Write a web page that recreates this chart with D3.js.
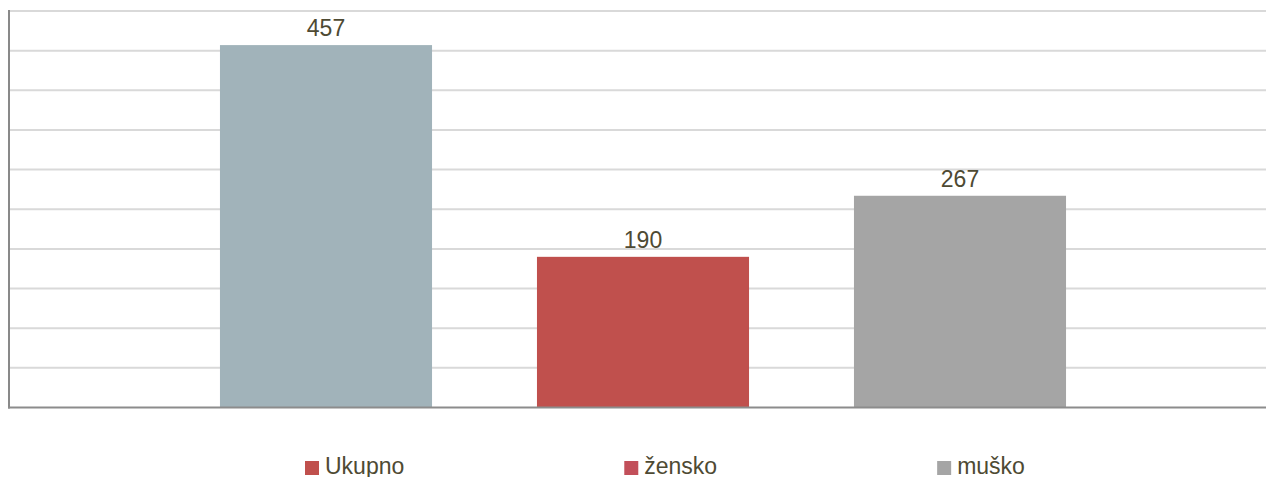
<!DOCTYPE html>
<html><head><meta charset="utf-8">
<script src="https://cdn.jsdelivr.net/npm/d3@7"></script>
<style>html,body{margin:0;padding:0;background:#fff;overflow:hidden}</style>
</head><body>
<svg id="chart" width="1266" height="477"></svg>
<script>
const categories = ["Ukupno", "žensko", "muško"];
const values = [457, 190, 267];
const barColors = ["#a1b3ba", "#c0504d", "#a5a5a5"];
const legendColors = ["#c0504d", "#c24f5a", "#a5a5a5"];
const yTicks = [0, 50, 100, 150, 200, 250, 300, 350, 400, 450, 500];

const svg = d3.select("#chart");
const font = "'Liberation Sans', Arial, sans-serif";
const textColor = "#4e4a33";

const y = d3.scaleLinear().domain([0, 500]).range([407.5, 11]);
const x = d3.scaleBand().domain(categories).range([167.5, 1118.5]).paddingInner(0.331).paddingOuter(0.1655);

// gridlines
svg.append("g").selectAll("line").data(yTicks.filter(d => d > 0)).join("line")
  .attr("x1", 10).attr("x2", 1266)
  .attr("y1", d => y(d)).attr("y2", d => y(d))
  .attr("stroke", "#d9d9d9").attr("stroke-width", 2);

// bars
svg.append("g").selectAll("rect").data(values).join("rect")
  .attr("x", (d, i) => x(categories[i]))
  .attr("width", x.bandwidth())
  .attr("y", d => y(d))
  .attr("height", d => y(0) - y(d))
  .attr("fill", (d, i) => barColors[i]);

// axes lines
svg.append("line").attr("x1", 9).attr("x2", 9).attr("y1", y(500) - 1).attr("y2", y(0) + 1)
  .attr("stroke", "#898989").attr("stroke-width", 2);
svg.append("line").attr("x1", 8).attr("x2", 1266).attr("y1", y(0)).attr("y2", y(0))
  .attr("stroke", "#8c8c8c").attr("stroke-width", 2);

// labels
svg.append("g").selectAll("text").data(values).join("text")
  .attr("x", (d, i) => x(categories[i]) + x.bandwidth() / 2)
  .attr("y", d => y(d) - 9)
  .attr("text-anchor", "middle")
  .attr("font-family", font).attr("font-size", 23)
  .attr("fill", textColor)
  .text(d => d);

// legend: items laid out with equal gaps
const legend = svg.append("g");
let cx = 305;
categories.forEach((c, i) => {
  const g = legend.append("g").attr("transform", `translate(${cx},0)`);
  g.append("rect").attr("x", 0).attr("y", 461).attr("width", 14).attr("height", 14)
    .attr("fill", legendColors[i]);
  const t = g.append("text").attr("x", 20).attr("y", 474)
    .attr("font-family", font).attr("font-size", 23).attr("fill", textColor)
    .text(c);
  cx += 20 + t.node().getComputedTextLength() + 220;
});
</script>
</body></html>
